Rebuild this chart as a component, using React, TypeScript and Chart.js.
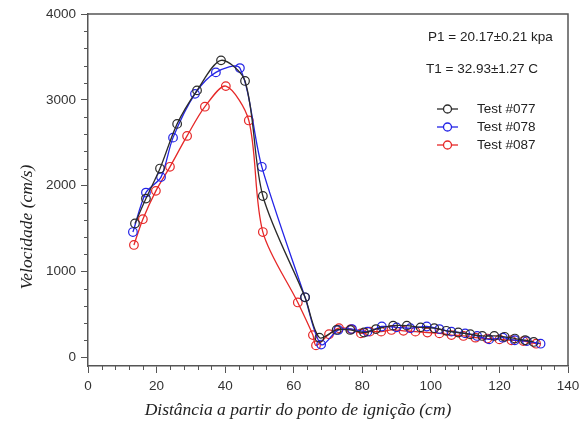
import React, { useEffect, useRef } from "react";
import { Chart, registerables } from "chart.js";

Chart.register(...registerables);

const test077X = [13.7, 16.9, 21.0, 26.0, 31.8, 38.8, 45.8, 51.0, 63.3, 67.5, 72.5, 76.5, 80.5, 84.0, 89.0, 93.0, 97.0, 101.0, 104.5, 108.0, 111.5, 115.0, 118.5, 121.5, 124.5, 127.5, 130.0];
const test077Y = [1560, 1850, 2200, 2720, 3110, 3460, 3220, 1880, 700, 230, 320, 320, 290, 330, 370, 370, 350, 340, 310, 290, 270, 250, 250, 240, 220, 200, 180];

const test078X = [13.1, 16.9, 21.3, 24.8, 31.2, 37.3, 44.3, 50.7, 63.3, 68.0, 73.0, 77.0, 81.5, 85.7, 90.0, 94.0, 98.8, 102.5, 106.0, 110.0, 113.5, 117.0, 121.0, 124.5, 128.0, 132.0];
const test078Y = [1460, 1920, 2100, 2560, 3070, 3320, 3370, 2220, 700, 150, 320, 330, 300, 360, 350, 340, 360, 330, 300, 280, 250, 210, 230, 200, 190, 160];

const test087X = [13.4, 16.0, 19.8, 23.9, 28.9, 34.1, 40.2, 46.9, 51.0, 61.2, 65.6, 66.5, 70.3, 73.2, 76.7, 79.6, 82.2, 85.5, 88.5, 92.0, 95.5, 99.0, 102.5, 106.0, 109.5, 113.0, 116.5, 120.0, 123.5, 127.0, 130.7];
const test087Y = [1310, 1610, 1940, 2220, 2580, 2920, 3160, 2760, 1460, 640, 260, 140, 270, 340, 330, 280, 300, 300, 320, 310, 300, 290, 280, 260, 250, 230, 220, 210, 200, 190, 160];

const yTickValues = [0, 1000, 2000, 3000, 4000];
const seriesNames = ["Test #077", "Test #078", "Test #087"];
const seriesColors = ["#2b2b2b", "#2323e6", "#e62828"];
const annotationLines = ["P1 = 20.17\u00b10.21 kpa", "T1 = 32.93\u00b11.27 C"];
const xTitle = "Dist\u00e2ncia a partir do ponto de igni\u00e7\u00e3o (cm)";
const yTitle = "Velocidade (cm/s)";

const toPoints = (xs: number[], ys: number[]) => xs.map((x, i) => ({ x, y: ys[i] }));

const SANS = "'Liberation Sans', Arial, sans-serif";
const SERIF = "'Liberation Serif', 'Times New Roman', serif";

export default function App() {
  const canvasRef = useRef<HTMLCanvasElement | null>(null);

  useEffect(() => {
    document.body.style.margin = "0";
    const canvas = canvasRef.current;
    if (!canvas) return;

    const decorPlugin = {
      id: "decor",
      afterDraw(chart: any) {
        const { ctx, chartArea, scales } = chart;
        const xs = scales.x;
        const ys = scales.y;
        ctx.save();
        // box (top & right)
        ctx.strokeStyle = "#555";
        ctx.lineWidth = 1.5;
        ctx.beginPath();
        ctx.moveTo(chartArea.left, chartArea.top);
        ctx.lineTo(chartArea.right, chartArea.top);
        ctx.lineTo(chartArea.right, chartArea.bottom);
        ctx.stroke();
        // minor ticks
        ctx.lineWidth = 1;
        ctx.strokeStyle = "#555";
        ctx.beginPath();
        for (let v = 0; v <= 4000; v += 200) {
          if (v % 1000 === 0) continue;
          const py = Math.round(ys.getPixelForValue(v)) + 0.5;
          ctx.moveTo(chartArea.left - 4, py);
          ctx.lineTo(chartArea.left, py);
        }
        for (let v = 0; v <= 140; v += 4) {
          if (v % 20 === 0) continue;
          const px = Math.round(xs.getPixelForValue(v)) + 0.5;
          ctx.moveTo(px, chartArea.bottom);
          ctx.lineTo(px, chartArea.bottom + 4);
        }
        ctx.stroke();
        // annotations
        ctx.fillStyle = "#222";
        ctx.font = `13.5px ${SANS}`;
        ctx.textBaseline = "middle";
        ctx.textAlign = "left";
        ctx.fillText(annotationLines[0], 428, 37);
        ctx.fillText(annotationLines[1], 426, 69);
        // legend
        const rows = [109, 127, 145];
        seriesNames.forEach((name, i) => {
          const y = rows[i];
          ctx.strokeStyle = seriesColors[i];
          ctx.lineWidth = 1.3;
          ctx.beginPath();
          ctx.moveTo(437, y);
          ctx.lineTo(458, y);
          ctx.stroke();
          ctx.beginPath();
          ctx.arc(447.5, y, 4, 0, Math.PI * 2);
          ctx.fillStyle = "#fff";
          ctx.fill();
          ctx.stroke();
          ctx.fillStyle = "#222";
          ctx.fillText(name, 477, y);
        });
        // axis titles
        ctx.font = `italic 17.5px ${SERIF}`;
        ctx.textAlign = "center";
        ctx.fillStyle = "#222";
        ctx.fillText(xTitle, 298, 410);
        ctx.translate(27, 227);
        ctx.rotate(-Math.PI / 2);
        ctx.fillText(yTitle, 0, 0);
        ctx.restore();
      },
    };

    const mkDs = (i: number, xs: number[], ys: number[]) => ({
      label: seriesNames[i],
      data: toPoints(xs, ys),
      borderColor: seriesColors[i],
      backgroundColor: "rgba(0,0,0,0)",
      borderWidth: 1.3,
      pointRadius: 4.3,
      pointBorderWidth: 1.2,
      pointBorderColor: seriesColors[i],
      pointBackgroundColor: "rgba(0,0,0,0)",
      tension: 0.3,
      showLine: true,
    });

    const chart = new Chart(canvas, {
      type: "scatter",
      data: {
        datasets: [
          mkDs(0, test077X, test077Y),
          mkDs(1, test078X, test078Y),
          mkDs(2, test087X, test087Y),
        ],
      },
      plugins: [decorPlugin],
      options: {
        animation: false,
        responsive: false,
        maintainAspectRatio: false,
        layout: { padding: { left: 0, top: 14, right: 14, bottom: 0 } },
        plugins: {
          legend: { display: false },
          tooltip: { enabled: false },
        },
        scales: {
          x: {
            type: "linear",
            min: 0,
            max: 140,
            ticks: {
              stepSize: 20,
              color: "#333",
              padding: 5,
              font: { family: SANS, size: 13.5 },
              maxRotation: 0,
              callback: (v: any) => String(v),
            },
            grid: {
              drawOnChartArea: false,
              drawTicks: true,
              tickLength: 7,
              color: "#555",
              tickWidth: 1,
            },
            border: { display: true, color: "#555", width: 1.5 },
            title: { display: false },
            afterFit: (scale: any) => {
              scale.height = 59;
              scale.paddingRight = 0;
              scale.paddingLeft = 0;
            },
          },
          y: {
            type: "linear",
            min: -100,
            max: 4000,
            afterBuildTicks: (scale: any) => {
              scale.ticks = yTickValues.map((v) => ({ value: v }));
            },
            ticks: {
              color: "#333",
              padding: 5,
              font: { family: SANS, size: 13.5 },
              callback: (v: any) => String(v),
            },
            grid: {
              drawOnChartArea: false,
              drawTicks: true,
              tickLength: 7,
              color: "#555",
              tickWidth: 1,
            },
            border: { display: true, color: "#555", width: 1.5 },
            title: { display: false },
            afterFit: (scale: any) => {
              scale.width = 88;
              scale.paddingTop = 0;
              scale.paddingBottom = 0;
            },
          },
        },
      },
    } as any);

    return () => {
      chart.destroy();
    };
  }, []);

  return (
    <div style={{ position: "absolute", left: 0, top: 0, width: 582, height: 425, background: "#fff" }}>
      <canvas ref={canvasRef} width={582} height={425} style={{ width: 582, height: 425 }} />
    </div>
  );
}
